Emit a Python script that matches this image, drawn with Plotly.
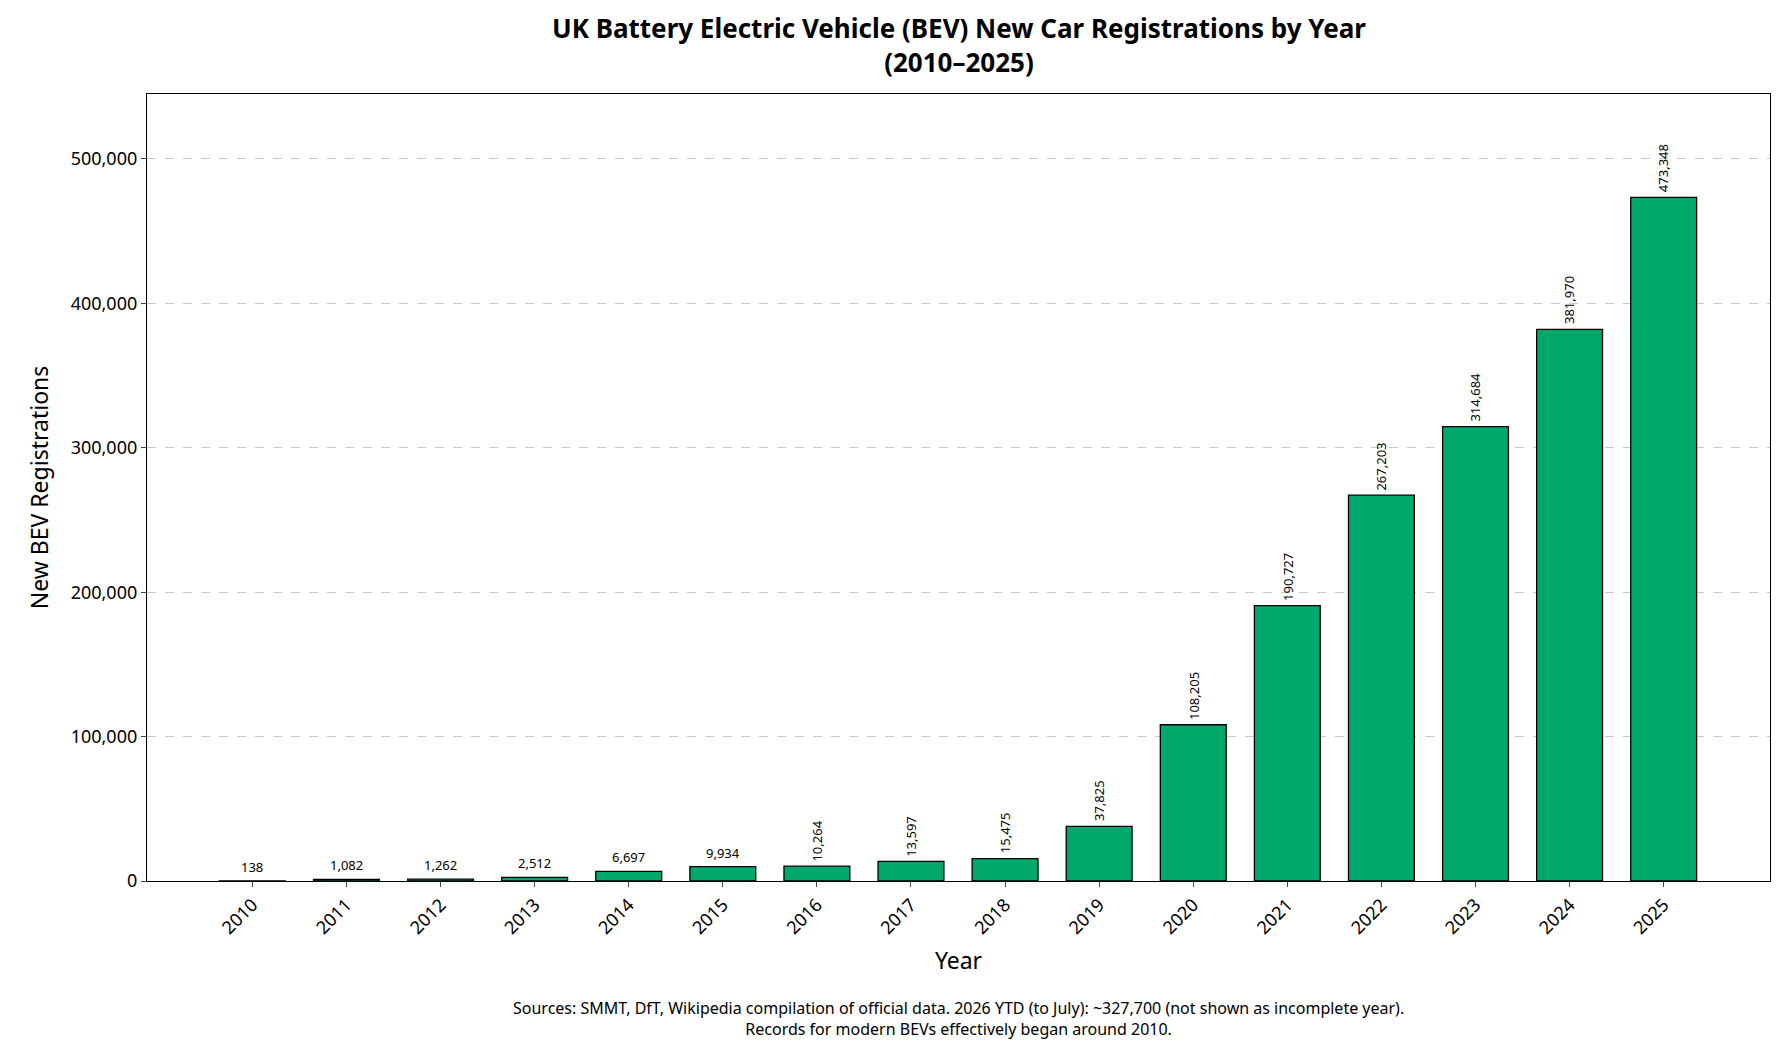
import plotly.graph_objects as go

years = list(range(2010, 2026))
regs = [138, 1082, 1262, 2512, 6697, 9934, 10264, 13597, 15475, 37825,
        108205, 190727, 267203, 314684, 381970, 473348]

fnt = "Noto Sans"

fig = go.Figure()
fig.add_trace(go.Bar(x=years, y=regs, width=0.7,
                     marker=dict(color="#00a86b", line=dict(color="black", width=1.3))))

anns = []
for yr, v in zip(years, regs):
    rot = v >= 10000
    anns.append(dict(x=yr, y=v, text=f"{v:,}", showarrow=False, xref="x", yref="y",
                     textangle=-90 if rot else 0, yanchor="bottom", xanchor="center",
                     yshift=3, font=dict(size=13, color="black", family=fnt)))

anns.append(dict(x=0.5, y=-0.145, xref="paper", yref="paper", showarrow=False,
                 xanchor="center", yanchor="top", align="center",
                 text="Sources: SMMT, DfT, Wikipedia compilation of official data. 2026 YTD (to July): ~327,700 (not shown as incomplete year).<br>Records for modern BEVs effectively began around 2010.",
                 font=dict(size=16, color="black", family=fnt)))

anns.append(dict(x=0.5, y=1.015, xref="paper", yref="paper", showarrow=False,
                 xanchor="center", yanchor="bottom", align="center",
                 text="<b>UK Battery Electric Vehicle (BEV) New Car Registrations by Year<br>(2010–2025)</b>",
                 font=dict(size=26, color="black", family=fnt)))

fig.update_layout(
    width=1784, height=1053, plot_bgcolor="white", paper_bgcolor="white",
    margin=dict(l=139, r=22, t=86, b=180),
    font=dict(family=fnt, color="black"),
    showlegend=False, annotations=anns, bargap=0.3,
)
fig.update_xaxes(range=[2008.88, 2026.13], tickvals=years, ticktext=[str(y) for y in years],
                 tickangle=-45, ticks="outside", ticklen=5, tickfont=dict(size=18),
                 title=dict(text="Year", font=dict(size=23)),
                 showline=True, linecolor="black", linewidth=1.3, mirror=True, showgrid=False)
fig.update_yaxes(range=[0, 545000], tickvals=[0, 100000, 200000, 300000, 400000, 500000],
                 tickformat=",", ticks="outside", ticklen=5, tickfont=dict(size=18),
                 title=dict(text="New BEV Registrations", font=dict(size=23)),
                 showline=True, linecolor="black", linewidth=1.3, mirror=True,
                 showgrid=True, gridcolor="#c8c8c8", griddash="dash", zeroline=False)

fig.write_html("out.html")
